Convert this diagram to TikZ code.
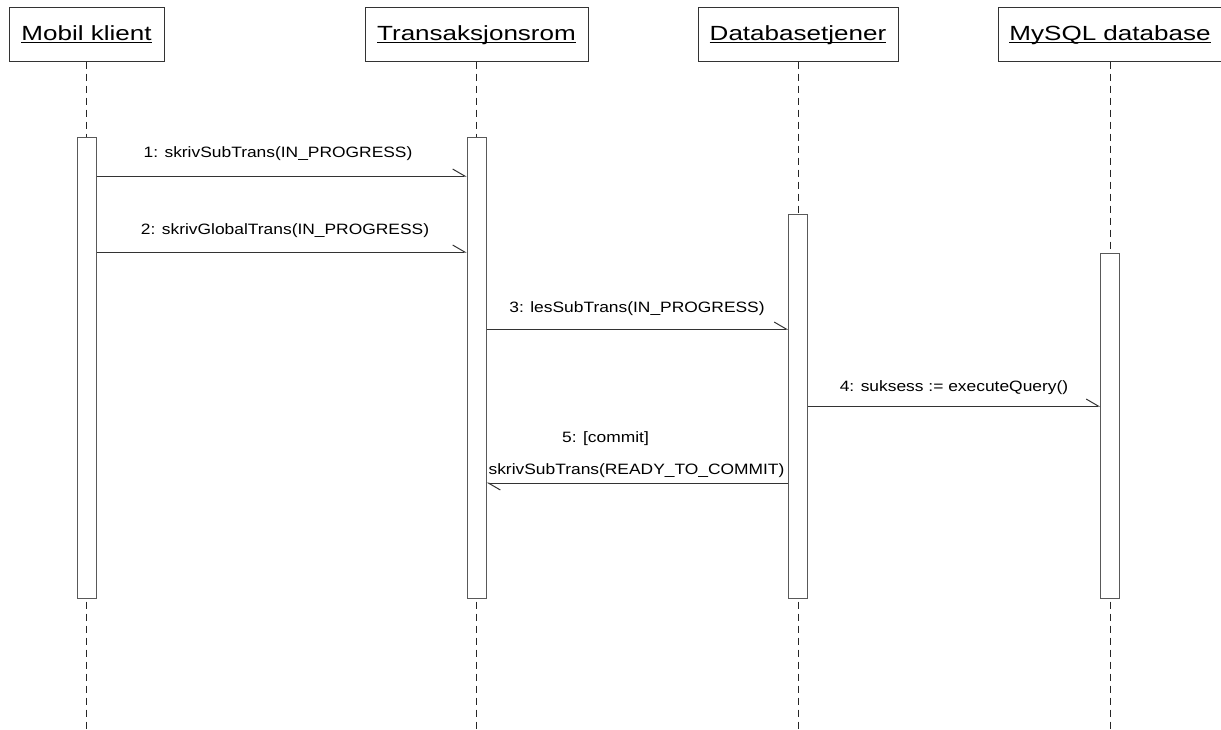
\documentclass[tikz,border=0pt]{standalone}
\usepackage{fontspec}
\setmainfont{Liberation Sans}
\newfontfamily\hfont{Liberation Sans}[FakeStretch=1.27]
\newfontfamily\lfont{Liberation Sans}[FakeStretch=1.16]
\usetikzlibrary{arrows.meta}
\newcommand\myul[1]{\setbox0\hbox{#1}\rlap{\rule[-3pt]{\wd0}{1.1pt}}\box0}
\begin{document}
\begin{tikzpicture}[x=1pt,y=-1pt,
  lc/.style={draw=black!80, line width=1pt},
  actor/.style={lc, rectangle, minimum height=54pt, inner sep=0pt,
    font=\hfont\fontsize{20.5}{24}\selectfont, text height=15pt, text depth=3pt, fill=white},
  bar/.style={lc, draw=black!65, rectangle, minimum width=19pt, inner sep=0pt, fill=white},
  lifeline/.style={draw=black!85, line width=1pt, dash pattern=on 7pt off 5pt},
  msg/.style={lc, -{Straight Barb[harpoon, length=12pt, width=14pt]}},
  lbl/.style={anchor=base, inner sep=0pt, font=\lfont\fontsize{15}{18}\selectfont}
]
\useasboundingbox (0,0) rectangle (1221,729);
\coordinate (bot) at (0,729);
% headers
\node[actor, minimum width=155pt] (mk) at (86.5,34) {\myul{Mobil klient}};
\node[actor, minimum width=223pt] (tr) at (476.5,34) {\myul{Transaksjonsrom}};
\node[actor, minimum width=200pt] (db) at (798,34) {\myul{Databasetjener}};
\node[actor, minimum width=224pt] (my) at (1110,34) {\myul{MySQL database}};
% lifelines
\draw[lifeline] (mk.south) -- (mk.south |- bot);
\draw[lifeline] (tr.south) -- (tr.south |- bot);
\draw[lifeline] (db.south) -- (db.south |- bot);
\draw[lifeline] (my.south) -- (my.south |- bot);
% activation bars
\node[bar, minimum height=461pt] (mkbar) at (86.5,367.5) {};
\node[bar, minimum height=461pt] (trbar) at (476.5,367.5) {};
\node[bar, minimum height=384pt] (dbbar) at (798,406) {};
\node[bar, minimum height=345pt] (mybar) at (1110,425.5) {};
% messages
\coordinate (m1) at (0,176);
\coordinate (m2) at (0,252);
\coordinate (m3) at (0,329);
\coordinate (m4) at (0,406);
\coordinate (m5) at (0,483);
\draw[msg] (mkbar.east |- m1) -- (trbar.west |- m1);
\draw[msg] (mkbar.east |- m2) -- (trbar.west |- m2);
\draw[msg] (trbar.east |- m3) -- (dbbar.west |- m3);
\draw[msg] (dbbar.east |- m4) -- (mybar.west |- m4);
\draw[msg] (dbbar.west |- m5) -- (trbar.east |- m5);
% labels
\node[lbl] (l1) at (278,157) {1: skrivSubTrans(IN\_PROGRESS)};
\node[lbl] (l2) at (285,234) {2: skrivGlobalTrans(IN\_PROGRESS)};
\node[lbl] (l3) at (637,312) {3: lesSubTrans(IN\_PROGRESS)};
\node[lbl] (l4) at (954,391) {4: suksess := executeQuery()};
\node[lbl] (l5a) at (605.5,442) {5: [commit]};
\node[lbl] (l5b) at (636.5,474) {skrivSubTrans(READY\_TO\_COMMIT)};
\end{tikzpicture}
\end{document}
